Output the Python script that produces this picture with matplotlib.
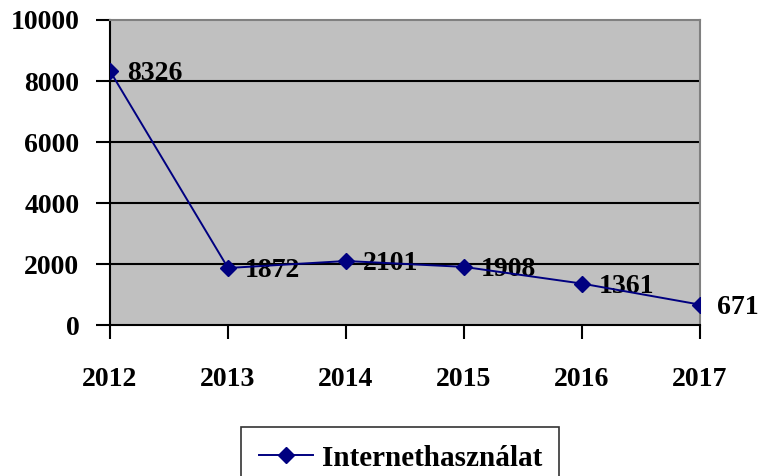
import matplotlib.pyplot as plt

years = ['2012', '2013', '2014', '2015', '2016', '2017']
values = [8326, 1872, 2101, 1908, 1361, 671]
series_name = 'Internethasználat'
y_ticks = [0, 2000, 4000, 6000, 8000, 10000]

plt.rcParams['font.family'] = ['Liberation Serif', 'DejaVu Serif']
plt.rcParams['font.weight'] = 'bold'

fig = plt.figure(figsize=(7.62, 4.76), dpi=100)
ax = fig.add_axes([0.1444, 0.317, 0.7742, 0.641])
ax.set_facecolor('#C0C0C0')

x = list(range(len(years)))
ax.plot(x, values, color='#000080', lw=1.4, marker='D', ms=8,
        label=series_name, zorder=4)

for xi, v in zip(x, values):
    ax.annotate(str(v), (xi, v), xytext=(12, -2), textcoords='offset points',
                ha='left', va='center', fontsize=20, fontweight='bold',
                color='black', zorder=3, annotation_clip=False)

ax.set_xlim(0, len(years) - 1)
ax.set_ylim(0, 10000)
ax.set_yticks(y_ticks)
ax.set_yticklabels([str(t) for t in y_ticks], fontsize=20, fontweight='bold')
ax.set_xticks(x)
ax.set_xticklabels(years, fontsize=20, fontweight='bold')

for t in y_ticks[1:-1]:
    ax.axhline(t, color='black', lw=1.5, zorder=2)

ax.spines['left'].set_linewidth(1.5)
ax.spines['bottom'].set_linewidth(1.5)
ax.spines['top'].set_color('#808080')
ax.spines['right'].set_color('#808080')
ax.spines['top'].set_linewidth(1.5)
ax.spines['right'].set_linewidth(1.5)

ax.tick_params(axis='y', direction='out', length=10, width=1.5, pad=12)
ax.tick_params(axis='x', direction='out', length=10, width=1.5, pad=20)

leg = ax.legend(loc='upper center', bbox_to_anchor=(0.492, -0.334), frameon=True,
                fancybox=False, edgecolor='black', prop={'size': 21, 'weight': 'bold'},
                handlelength=1.85, borderpad=0.6, handletextpad=0.3,
                borderaxespad=0)
leg.get_frame().set_linewidth(1.2)

fig.savefig('out.png', dpi=100)
